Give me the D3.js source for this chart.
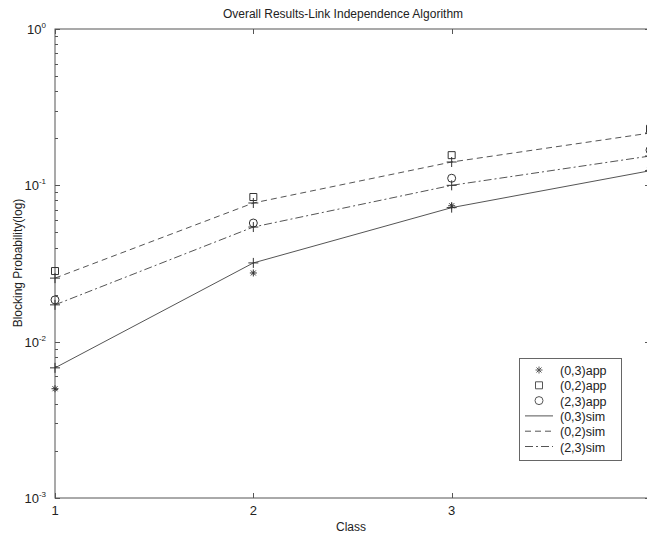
<!DOCTYPE html>
<html>
<head>
<meta charset="utf-8">
<script src="https://cdn.jsdelivr.net/npm/d3@7"></script>
<style>
  body { margin: 0; background: #fff; }
  svg { display: block; font-family: "Liberation Sans", Arial, sans-serif; }
</style>
</head>
<body>
<div id="chart"></div>
<script>
// Data
const classes = [1, 2, 3, 4];
const app03 = [0.0050, 0.0275, 0.0740, 0.125];
const app02 = [0.0283, 0.0842, 0.156, 0.230];
const app23 = [0.0185, 0.0574, 0.111, 0.168];
const sim03 = [0.0068, 0.0319, 0.0720, 0.124];
const sim02 = [0.0255, 0.0771, 0.141, 0.216];
const sim23 = [0.0172, 0.0541, 0.100, 0.154];
const xTicks = [1, 2, 3, 4];
const xTickLabels = [1, 2, 3];
const yTicks = [1e-3, 1e-2, 1e-1, 1];
const yTickExp = ["-3", "-2", "-1", "0"];
const legendLabels = ["(0,3)app", "(0,2)app", "(2,3)app", "(0,3)sim", "(0,2)sim", "(2,3)sim"];

// Size
const width = 647,
    height = 539,
    margin = { top: 29, left: 55, bottom: 41, right: -3 };

const axisColor = "#555",
    lineColor = "#555";

const svg = d3.select("#chart").append("svg")
    .attr("width", width)
    .attr("height", height);

// Scales
const xScale = d3.scaleLinear()
    .domain([1, 4])
    .range([margin.left, width - margin.right]);

const yScale = d3.scaleLog()
    .domain([1e-3, 1])
    .range([height - margin.bottom, margin.top]);

const x0 = xScale.range()[0], x1 = xScale.range()[1],
    y0 = yScale.range()[0], y1 = yScale.range()[1];

// Frame
svg.append("rect")
    .attr("x", x0)
    .attr("y", y1)
    .attr("width", x1 - x0)
    .attr("height", y0 - y1)
    .style("fill", "none")
    .style("stroke", axisColor)
    .style("stroke-width", 1);

// Ticks, all drawn inward like matlab does
const ticks = svg.append("g").attr("class", "ticks")
    .style("stroke", axisColor)
    .style("stroke-width", 1);

xTicks.forEach(t => {
  const x = Math.round(xScale(t)) + 0.5;
  ticks.append("line").attr("x1", x).attr("x2", x).attr("y1", y0).attr("y2", y0 - 5);
  ticks.append("line").attr("x1", x).attr("x2", x).attr("y1", y1).attr("y2", y1 + 5);
});

const minor = [];
yTicks.slice(0, -1).forEach(d => { for (let k = 2; k < 10; k++) minor.push(d * k); });

yTicks.forEach(t => {
  const y = Math.round(yScale(t)) + 0.5;
  ticks.append("line").attr("x1", x0).attr("x2", x0 + 5).attr("y1", y).attr("y2", y);
  ticks.append("line").attr("x1", x1).attr("x2", x1 - 5).attr("y1", y).attr("y2", y);
});
minor.forEach(t => {
  const y = Math.round(yScale(t)) + 0.5;
  ticks.append("line").attr("x1", x0).attr("x2", x0 + 3).attr("y1", y).attr("y2", y);
  ticks.append("line").attr("x1", x1).attr("x2", x1 - 3).attr("y1", y).attr("y2", y);
});

// Tick labels (the one under 4 falls outside the picture)
svg.append("g").selectAll("text")
    .data(xTickLabels)
  .enter().append("text")
    .attr("x", d => xScale(d))
    .attr("y", y0 + 17)
    .attr("text-anchor", "middle")
    .style("font-size", "13px")
    .style("fill", "#222")
    .text(d => d);

const yLabels = svg.append("g").selectAll("text")
    .data(yTicks)
  .enter().append("text")
    .attr("x", x0 - 9)
    .attr("y", d => yScale(d) + 5)
    .attr("text-anchor", "end")
    .style("font-size", "13px")
    .style("fill", "#222");

yLabels.append("tspan").text("10");
yLabels.append("tspan")
    .attr("dy", -6)
    .style("font-size", "8px")
    .text((d, i) => yTickExp[i]);

// Titles
svg.append("text")
    .attr("x", 343)
    .attr("y", 18)
    .attr("text-anchor", "middle")
    .style("font-size", "12px")
    .style("fill", "#222")
    .text("Overall Results-Link Independence Algorithm");

svg.append("text")
    .attr("x", 351)
    .attr("y", 531)
    .attr("text-anchor", "middle")
    .style("font-size", "12px")
    .style("fill", "#222")
    .text("Class");

svg.append("text")
    .attr("transform", "translate(22," + 263 + ") rotate(-90)")
    .attr("text-anchor", "middle")
    .style("font-size", "12px")
    .style("fill", "#222")
    .text("Blocking Probability(log)");

// Clip to the plot area
svg.append("clipPath").attr("id", "plotClip")
  .append("rect")
    .attr("x", x0 - 6).attr("y", y1).attr("width", x1 - x0 + 12).attr("height", y0 - y1);

const plot = svg.append("g").attr("clip-path", "url(#plotClip)");

// Simulation lines
const sims = [
  { values: sim03, dash: null },
  { values: sim02, dash: "6 4" },
  { values: sim23, dash: "8 3 2 3" }
];

const lineShape = d3.line()
    .x((d, i) => xScale(classes[i]))
    .y(d => yScale(d));

plot.selectAll(".sim")
    .data(sims)
  .enter().append("path")
    .attr("class", "sim")
    .attr("d", d => lineShape(d.values))
    .style("fill", "none")
    .style("stroke", lineColor)
    .style("stroke-width", 1)
    .style("stroke-dasharray", d => d.dash);

// Plus markers at the simulation points
const plus = [];
sims.forEach(s => s.values.forEach((v, i) => plus.push({ x: classes[i], y: v })));

plot.selectAll(".plus")
    .data(plus)
  .enter().append("path")
    .attr("class", "plus")
    .attr("transform", d => "translate(" + xScale(d.x) + "," + yScale(d.y) + ")")
    .attr("d", "M-5,0H5M0,-5V5")
    .style("fill", "none")
    .style("stroke", "#333")
    .style("stroke-width", 1);

// Marker shapes
function markerPath(type) {
  if (type === "star") return "M-3.5,0H3.5M0,-3.5V3.5M-2.5,-2.5L2.5,2.5M-2.5,2.5L2.5,-2.5";
  if (type === "square") return "M-3.5,-3.5H3.5V3.5H-3.5Z";
  return "M4,0A4,4 0 1,1 -4,0A4,4 0 1,1 4,0Z";
}

const apps = [
  { values: app03, type: "star" },
  { values: app02, type: "square" },
  { values: app23, type: "circle" }
];

apps.forEach(a => {
  plot.selectAll(".m-" + a.type)
      .data(a.values)
    .enter().append("path")
      .attr("class", "m-" + a.type)
      .attr("transform", (d, i) => "translate(" + xScale(classes[i]) + "," + yScale(d) + ")")
      .attr("d", markerPath(a.type))
      .style("fill", "none")
      .style("stroke", "#333")
      .style("stroke-width", 1);
});

// Legend
const legend = svg.append("g")
    .attr("transform", "translate(519,358)");

legend.append("rect")
    .attr("x", 0.5).attr("y", 0.5)
    .attr("width", 102).attr("height", 102)
    .style("fill", "#fff")
    .style("stroke", "#666");

const legendItems = legend.selectAll(".item")
    .data(legendLabels)
  .enter().append("g")
    .attr("class", "item")
    .attr("transform", (d, i) => "translate(0," + (12 + i * 15.3) + ")");

legendItems.append("text")
    .attr("x", 41)
    .attr("y", 5)
    .style("font-size", "12.5px")
    .style("fill", "#222")
    .text(d => d);

legendItems.filter((d, i) => i < 3).append("path")
    .attr("transform", "translate(20,0)")
    .attr("d", (d, i) => markerPath(apps[i].type))
    .style("fill", "none")
    .style("stroke", "#555");

legendItems.filter((d, i) => i >= 3).append("line")
    .attr("x1", 6).attr("x2", 34)
    .style("stroke", lineColor)
    .style("stroke-dasharray", (d, i) => sims[i].dash);
</script>
</body>
</html>
